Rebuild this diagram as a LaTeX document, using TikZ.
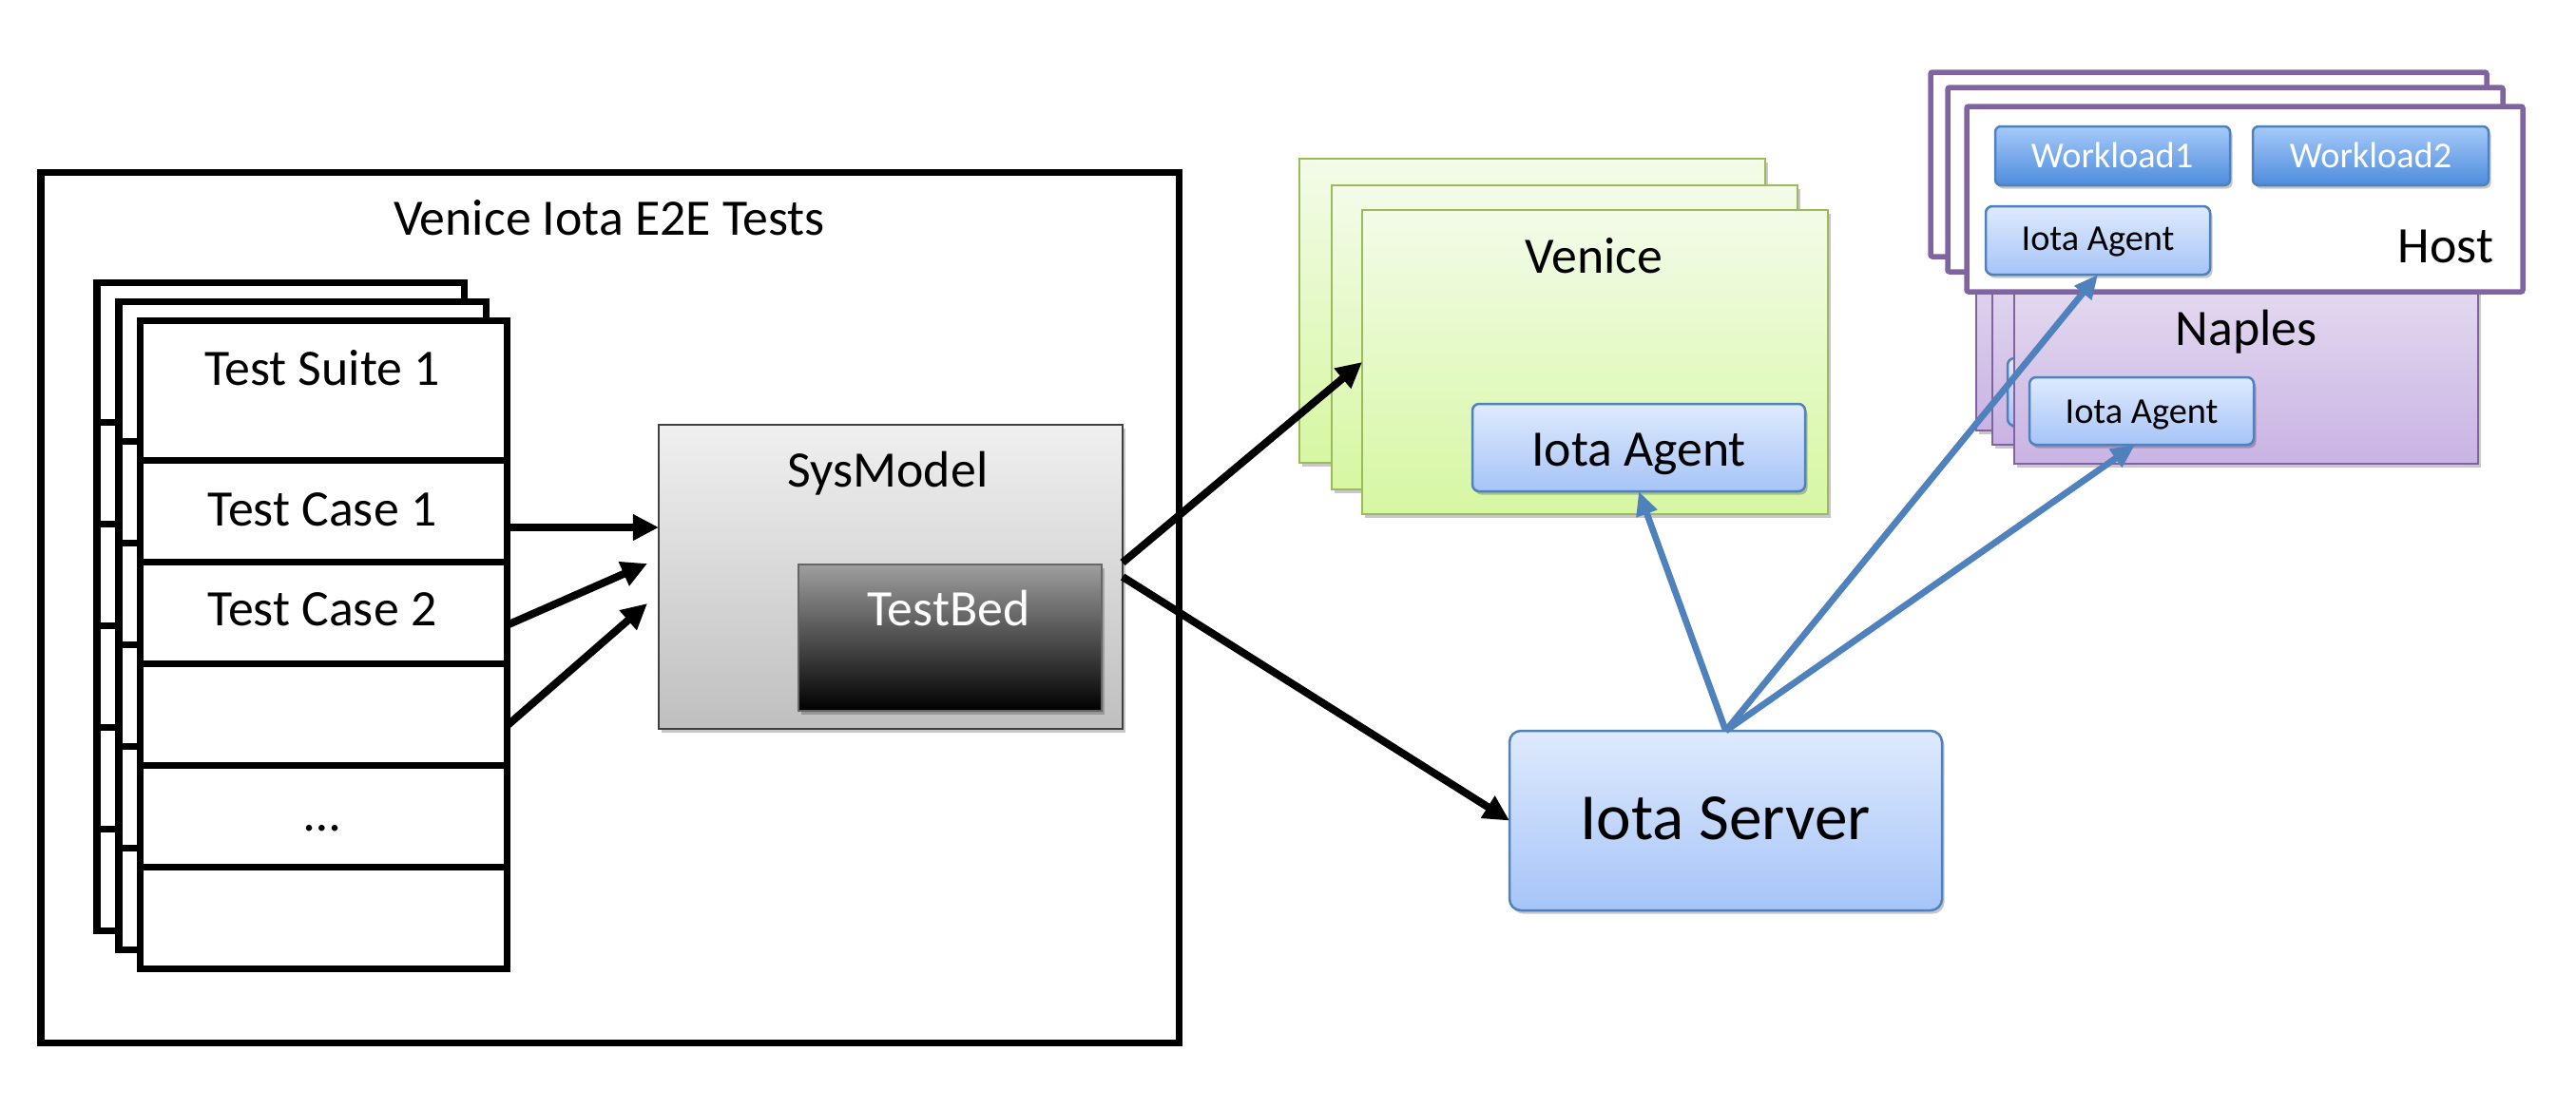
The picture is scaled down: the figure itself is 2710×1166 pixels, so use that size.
\documentclass[tikz,border=0pt]{standalone}
\usepackage{fontspec}
\setmainfont{Carlito}
\usetikzlibrary{fit,arrows.meta,shadows,calc}
\newcommand\fmain{\fontsize{15.3pt}{18pt}\selectfont}
\newcommand\fbig{\fontsize{19.7pt}{23pt}\selectfont}
\newcommand\fsmall{\fontsize{10.9pt}{13pt}\selectfont}
\definecolor{vgreen}{HTML}{9BBB59}
\definecolor{vtop}{HTML}{F3FBE9}
\definecolor{vbot}{HTML}{D6F7A2}
\definecolor{ablue}{HTML}{4F81BD}
\definecolor{atop}{HTML}{DFEAFD}
\definecolor{abot}{HTML}{A6C4F8}
\definecolor{wtop}{HTML}{A6CAFA}
\definecolor{wbot}{HTML}{4D8CDB}
\definecolor{purp}{HTML}{8064A2}
\definecolor{ntop}{HTML}{EEE8F5}
\definecolor{nbot}{HTML}{C9B3E3}
\definecolor{arrblue}{HTML}{4F81BD}
\begin{document}
\begin{tikzpicture}[x=0.01cm,y=-0.01cm,
  shd/.style={drop shadow={shadow xshift=0.025cm,shadow yshift=-0.035cm,opacity=0.22,fill=black}},
  bx/.style={inner sep=0pt,outer sep=0pt},
  pg/.style={bx,draw=black,line width=0.07cm,fill=white},
  pgline/.style={draw=black,line width=0.07cm},
  lbl/.style={inner sep=0pt,anchor=base,font=\fmain},
  slbl/.style={inner sep=0pt,anchor=base,font=\fsmall},
  sysbox/.style={bx,draw=black!75,line width=0.02cm,top color=black!6,bottom color=black!25,shd},
  tbbox/.style={bx,draw=black!60,line width=0.02cm,top color=black!38,bottom color=black,shd},
  vbox/.style={bx,draw=vgreen,line width=0.025cm,top color=vtop,bottom color=vbot,shd},
  agent/.style={bx,draw=ablue,line width=0.025cm,rounded corners=0.07cm,top color=atop,bottom color=abot,shd},
  wbox/.style={bx,draw=ablue,line width=0.025cm,rounded corners=0.06cm,top color=wtop,bottom color=wbot,shd},
  nbox/.style={bx,draw=purp,line width=0.025cm,top color=ntop,bottom color=nbot,shd},
  hbox/.style={bx,draw=purp,line width=0.055cm,fill=white,rounded corners=0.02cm},
  barrow/.style={draw=black,line width=0.08cm,-{Triangle[length=0.27cm,width=0.26cm]}},
  blarrow/.style={draw=arrblue,line width=0.068cm,-{Triangle[length=0.25cm,width=0.22cm]}}
]
\fill[white] (0,0) rectangle (2710,1166);
\useasboundingbox (0,0) rectangle (2710,1166);

% outer box
\node[bx,draw=black,line width=0.07cm,fit={(43,181)(1240,1097)}] (outer) {};
\node[lbl] (title) at (641,247) {Venice Iota E2E Tests};

% back pages
\foreach \dx/\dy in {0/0,23/20} {
  \draw[pgline,fill=white] (102+\dx,297+\dy) rectangle (488+\dx,979+\dy);
  \foreach \k in {0,...,4}
    \draw[pgline] (102+\dx,444+\dy+107*\k) -- (488+\dx,444+\dy+107*\k);
}
% front page rows
\node[pg,fit={(147,337)(533,484)}] (ts) {};
\node[pg,fit={(147,484)(533,591)}] (tc1) {};
\node[pg,fit={(147,591)(533,698)}] (tc2) {};
\node[pg,fit={(147,698)(533,805)}] (r4) {};
\node[pg,fit={(147,805)(533,912)}] (r5) {};
\node[pg,fit={(147,912)(533,1019)}] (r6) {};
\node[lbl] (tsl) at (339,405) {Test Suite 1};
\node[lbl] (tc1l) at (339,553) {Test Case 1};
\node[lbl] (tc2l) at (339,658) {Test Case 2};
\node[lbl] (r5l) at (339,874) {…};

% SysModel
\node[sysbox,fit={(693,447)(1181,767)}] (sys) {};
\node[lbl] (sysl) at (934,512) {SysModel};
\node[tbbox,fit={(840,594)(1159,748)}] (tb) {};
\node[lbl,text=white] (tbl) at (998,658) {TestBed};

% Venice
\node[vbox,fit={(1367,167)(1857,487)}] (vback) {};
\node[vbox,fit={(1401,195)(1891,515)}] (vmid) {};
\node[vbox,fit={(1433,221)(1923,541)}] (vfront) {};
\node[lbl] (vl) at (1677,287) {Venice};
\node[agent,fit={(1549,425)(1899,517)}] (vagent) {};
\node[lbl] (vagentl) at (1724,490) {Iota Agent};

% Iota Server
\node[agent,rounded corners=0.12cm,fit={(1588,769)(2043,958)}] (server) {};
\node[lbl,font=\fbig] (serverl) at (1815,883) {Iota Server};

% Naples
\node[nbox,fit={(2079,195)(2567,453)}] (nback) {};
\node[nbox,fit={(2096,210)(2584,468)}] (nmid) {};
\node[agent,fit={(2112,377)(2348,448)}] (nmidagent) {};
\node[nbox,fit={(2119,230)(2607,488)}] (nfront) {};
\node[lbl] (nl) at (2363,363) {Naples};
\node[agent,fit={(2135,397)(2371,468)}] (nagent) {};
\node[slbl] (nagentl) at (2253,445) {Iota Agent};

% Host
\node[hbox,fit={(2031,76)(2616,270)}] (hback) {};
\node[hbox,fit={(2049,92)(2633,286)}] (hmid) {};
\node[hbox,fit={(2069,112)(2654,307)}] (hfront) {};
\node[wbox,fit={(2099,133)(2346,195)}] (w1) {};
\node[slbl,text=white] (w1l) at (2222,176) {Workload1};
\node[wbox,fit={(2370,133)(2618,195)}] (w2) {};
\node[slbl,text=white] (w2l) at (2494,176) {Workload2};
\node[agent,fit={(2089,217)(2325,289)}] (hagent) {};
\node[slbl] (hagentl) at (2207,263) {Iota Agent};
\node[lbl] (hl) at (2573,276) {Host};

% black arrows
\coordinate (a1s) at (533,555); \coordinate (a1e) at (693,555);
\coordinate (a2s) at (533,658); \coordinate (a2e) at (681,593);
\coordinate (a3s) at (533,764); \coordinate (a3e) at (681,635);
\draw[barrow] (a1s) -- (a1e);
\draw[barrow] (a2s) -- (a2e);
\draw[barrow] (a3s) -- (a3e);
\coordinate (s1) at ($(sys.east)+(0,-15)$);
\draw[barrow] (s1) -- (vfront.west);
\draw[barrow] (sys.east) -- (server.west);

% blue arrows
\draw[blarrow] (server.north) -- (vagent.south);
\draw[blarrow] (server.north) -- (hagent.south);
\draw[blarrow] (server.north) -- ($(nagent.south)+(-7,0)$);
\end{tikzpicture}
\end{document}
